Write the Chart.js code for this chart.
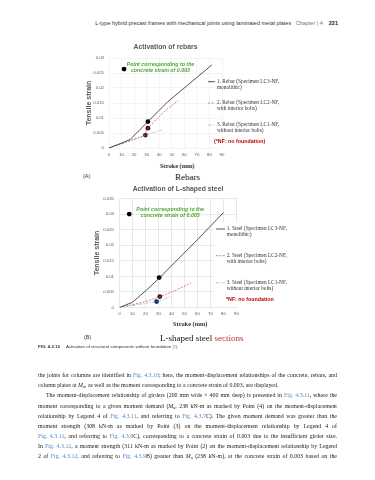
<!DOCTYPE html>
<html>
<head>
<meta charset="utf-8">
<script src="https://cdn.jsdelivr.net/npm/chart.js@4.4.1/dist/chart.umd.min.js"></script>
<style>
  html, body { margin: 0; padding: 0; background: #fff; }
  body { width: 375px; height: 480px; position: relative; overflow: hidden; font-family: "Liberation Serif", serif; color: #222; }
  .t { position: absolute; white-space: nowrap; line-height: 1; }
  canvas { position: absolute; }
  .head { font-family: "Liberation Sans", sans-serif; font-size: 5.5px; color: #333; right: 37px; top: 21.3px; }
  .head .ch { color: #777; margin-left: 3px; }
  .head b { margin-left: 6px; color: #222; }
  .sub { font-size: 9px; color: #111; }
  .tag { font-family: "Liberation Sans", sans-serif; font-size: 5.4px; color: #333; }
  .stroke { font-size: 6.4px; font-weight: bold; color: #333; }
  .red { color: #b7322c; }
  .cap { font-family: "Liberation Sans", sans-serif; font-size: 4.4px; color: #333; left: 38px; top: 345px; }
  .cap b { margin-right: 6px; }
  .link { color: #4f8ac4; }
  .para { position: absolute; left: 38px; width: 299px; font-size: 5.9px; line-height: 1; color: #222; text-align: justify; text-align-last: justify; white-space: nowrap; }
  .para i { font-style: italic; }
  .para sub { font-size: 4px; vertical-align: -1px; line-height: 0; }
</style>
</head>
<body>

<div class="t head">L-type hybrid precast frames with mechanical joints using laminated metal plates <span class="ch">Chapter | 4</span><b>221</b></div>

<canvas id="chartA" width="240" height="125" style="left:60px;top:36px"></canvas>
<div class="t stroke" style="left:160px;top:163.3px">Stroke (mm)</div>
<div class="t tag" style="left:83px;top:174.3px">(A)</div>
<div class="t sub" style="left:175px;top:172.5px">Rebars</div>

<canvas id="chartB" width="240" height="140" style="left:60px;top:182px"></canvas>
<div class="t stroke" style="left:173px;top:321px">Stroke (mm)</div>
<div class="t tag" style="left:84px;top:335.3px">(B)</div>
<div class="t sub" style="left:160px;top:333.5px">L-shaped steel <span class="red">sections</span></div>

<div class="t cap"><b>FIG. 4.2.12</b>Activation of structural components without foundation <span class="link">[2]</span>.</div>

<div class="para" style="top:373.2px">the joints for columns are identified in <span class="link">Fig. 4.3.10</span>; here, the moment-displacement relationships of the concrete, rebars, and</div>
<div class="para" style="top:383.2px;text-align-last:left">column plates at <i>M</i><sub>u</sub>, as well as the moment corresponding to a concrete strain of 0.003, are displayed.</div>
<div class="para" style="top:393.4px;padding-left:8px;width:291px">The moment-displacement relationship of girders (200 mm wide &times; 400 mm deep) is presented in <span class="link">Fig. 4.3.11</span>, where the</div>
<div class="para" style="top:403.5px">moment corresponding to a given moment demand (<i>M</i><sub>u</sub>, 238 kN-m as marked by Point (4) on the moment-displacement</div>
<div class="para" style="top:413.6px">relationship by Legend 4 of <span class="link">Fig. 4.3.11</span>, and referring to <span class="link">Fig. 4.3.7</span>C). The given moment demand was greater than the</div>
<div class="para" style="top:423.7px">moment strength (308 kN-m as marked by Point (3) on the moment-displacement relationship by Legend 4 of</div>
<div class="para" style="top:433.8px"><span class="link">Fig. 4.3.11</span>, and referring to <span class="link">Fig. 4.3.8</span>C), corresponding to a concrete strain of 0.003 due to the insufficient girder size.</div>
<div class="para" style="top:444px">In <span class="link">Fig. 4.3.12</span>, a moment strength (311 kN-m as marked by Point (2) on the moment-displacement relationship by Legend</div>
<div class="para" style="top:454.1px">2 of <span class="link">Fig. 4.3.12</span>, and referring to <span class="link">Fig. 4.3.9</span>B) greater than <i>M</i><sub>u</sub> (238 kN-m), at the concrete strain of 0.003 based on the</div>

<script>
const strokeTicks = [0, 10, 20, 30, 40, 50, 60, 70, 80, 90]
const strainTicksA = [0, 0.005, 0.01, 0.015, 0.02, 0.025, 0.03]
const strainTicksB = [0, 0.005, 0.01, 0.015, 0.02, 0.025, 0.03, 0.035]

// (A) rebars
const rebarMonoX = [0, 8, 17, 31, 47, 82]
const rebarMonoY = [0, 0.0013, 0.0029, 0.0088, 0.0155, 0.0277]
const rebarBoltsX = [0, 16, 27, 31, 40, 47, 55]
const rebarBoltsY = [0, 0.0023, 0.004, 0.0066, 0.0105, 0.0132, 0.0157]
const rebarPlainX = [0, 17, 29, 42]
const rebarPlainY = [0, 0.0024, 0.0042, 0.006]
const rebarMarkX = [31, 31, 29]
const rebarMarkY = [0.0088, 0.0066, 0.0043]
const rebarNoteX = [12]
const rebarNoteY = [0.0263]
const rebarLegend = [
  ['1. Rebar (Specimen LC3-NF,', 'monolithic)'],
  ['2. Rebar (Specimen LC2-NF,', 'with interior bolts)'],
  ['3. Rebar (Specimen LC1-NF,', 'without interior bolts)'],
]

// (B) L-shaped steel
const steelMonoX = [0, 10, 20, 31, 45, 60, 80]
const steelMonoY = [0, 0.0017, 0.0053, 0.0096, 0.0155, 0.0218, 0.0305]
const steelBoltsX = [0, 10, 20, 31, 42, 55]
const steelBoltsY = [0, 0.0009, 0.0019, 0.0034, 0.0053, 0.0079]
const steelPlainX = [0, 15, 28.5, 40]
const steelPlainY = [0, 0.001, 0.0019, 0.0035]
const steelMarkX = [30.5, 31, 28.5]
const steelMarkY = [0.0096, 0.0035, 0.0019]
const steelNoteX = [7.5]
const steelNoteY = [0.03]
const steelLegend = [
  ['1. Steel (Specimen LC3-NF,', 'monolithic)'],
  ['2. Steel (Specimen LC2-NF,', 'with interior bolts)'],
  ['3. Steel (Specimen LC1-NF,', 'without interior bolts)'],
]

const noteText = ['Point corresponding to the', 'concrete strain of 0.003']
const axisGrey = '#595959'

const zip = (xs, ys) => xs.map((x, i) => ({ x, y: ys[i] }))

// legend, green note and NF remark drawn on top of the plot
const notes = {
  id: 'notes',
  beforeDatasetsDraw(chart, args, o) {
    if (!o.cover) return
    const ctx = chart.ctx
    ctx.save()
    ctx.fillStyle = '#fff'
    ctx.fillRect(...o.cover)
    ctx.restore()
  },
  afterDraw(chart, args, o) {
    const { ctx, scales: { x, y } } = chart
    ctx.save()
    ctx.textBaseline = 'middle'

    ctx.fillStyle = '#4ea832'
    ctx.font = 'italic bold 5.3px "Liberation Sans"'
    ctx.textAlign = 'center'
    const nx = x.getPixelForValue(o.noteAt[0])
    const ny = y.getPixelForValue(o.noteAt[1])
    noteText.forEach((t, i) => ctx.fillText(t, nx, ny + i * 5.9))

    ctx.textAlign = 'left'
    o.items.forEach((lines, i) => {
      const ds = chart.data.datasets[i]
      const ly = o.rows[i]
      ctx.strokeStyle = ds.borderColor
      ctx.lineWidth = ds.borderWidth
      ctx.setLineDash(ds.borderDash || [])
      ctx.beginPath()
      ctx.moveTo(o.lineX, ly)
      ctx.lineTo(o.lineX + o.lineW, ly)
      ctx.stroke()
      ctx.fillStyle = '#333'
      ctx.font = '5.3px "Liberation Serif"'
      lines.forEach((t, j) => ctx.fillText(t, o.textX, ly + j * 5.8))
    })

    ctx.fillStyle = '#c00000'
    ctx.font = 'bold 5.3px "Liberation Sans"'
    ctx.fillText(o.nf, o.nfX, o.nfY)
    ctx.restore()
  },
}

function strainChart(id, c) {
  const line = (xs, ys, color, dash, width) => ({
    data: zip(xs, ys),
    showLine: true,
    borderColor: color,
    borderWidth: width,
    borderDash: dash,
    pointRadius: 0,
  })
  return new Chart(document.getElementById(id), {
    type: 'scatter',
    data: {
      datasets: [
        line(c.mono[0], c.mono[1], '#262626', [], 0.8),
        line(c.bolts[0], c.bolts[1], '#cf5a55', [2, 1.4], 0.8),
        line(c.plain[0], c.plain[1], '#8fbde0', [3, 1.3, 1, 1.3], 0.8),
        {
          data: zip(c.mark[0], c.mark[1]),
          pointRadius: 2.4,
          pointBackgroundColor: c.markColors,
          pointBorderWidth: 0,
        },
        {
          data: zip(c.note[0], c.note[1]),
          pointRadius: 2.4,
          pointBackgroundColor: '#000',
          pointBorderWidth: 0,
        },
      ],
    },
    options: {
      responsive: false,
      animation: false,
      events: [],
      layout: { padding: c.padding },
      plugins: {
        legend: { display: false },
        tooltip: { enabled: false },
        title: {
          display: true,
          text: c.title,
          fullSize: false,
          color: axisGrey,
          font: { family: '"Liberation Sans"', size: 6.8, weight: 'bold' },
          padding: c.titlePad,
        },
        notes: c.notes,
      },
      scales: {
        x: {
          type: 'linear',
          min: 0,
          max: 90,
          afterBuildTicks: (s) => { s.ticks = strokeTicks.map((v) => ({ value: v })) },
          afterFit: (s) => { s.height = 10 },
          grid: { color: c.grid, lineWidth: 0.6, drawTicks: false },
          border: { display: false },
          ticks: { padding: 4, color: axisGrey, font: { family: '"Liberation Sans"', size: 4.3 } },
        },
        y: {
          min: 0,
          max: c.yTicks[c.yTicks.length - 1],
          afterBuildTicks: (s) => { s.ticks = c.yTicks.map((v) => ({ value: v })) },
          afterFit: (s) => { s.width = c.yWidth },
          grid: { color: c.grid, lineWidth: 0.6, drawTicks: false },
          border: { display: false },
          ticks: {
            padding: c.tickPad,
            color: axisGrey,
            font: { family: '"Liberation Sans"', size: 4.3 },
            callback: (v) => String(v),
          },
          title: {
            display: true,
            text: 'Tensile strain',
            color: axisGrey,
            font: { family: '"Liberation Sans"', size: 7, weight: 'bold' },
            padding: { top: c.yTitlePad, bottom: 0 },
          },
        },
      },
    },
    plugins: [notes],
  })
}

strainChart('chartA', {
  title: 'Activation of rebars',
  titlePad: { top: 7.5, bottom: 6.34 },
  padding: { left: 0, right: 78, top: 0, bottom: 3 },
  yWidth: 49,
  yTitlePad: 24.8,
  tickPad: 5,
  yTicks: strainTicksA,
  grid: '#ececec',
  mono: [rebarMonoX, rebarMonoY],
  bolts: [rebarBoltsX, rebarBoltsY],
  plain: [rebarPlainX, rebarPlainY],
  mark: [rebarMarkX, rebarMarkY],
  markColors: ['#000', '#4a0c0c', '#3a1414'],
  note: [rebarNoteX, rebarNoteY],
  notes: {
    cover: null,
    noteAt: [41, 0.0278],
    items: rebarLegend,
    rows: [45.7, 67, 89],
    lineX: 148,
    lineW: 7,
    textX: 157,
    nf: '(*NF: no foundation)',
    nfX: 154,
    nfY: 105.7,
  },
})

strainChart('chartB', {
  title: 'Activation of L-shaped steel',
  titlePad: { top: 3.5, bottom: 4.84 },
  padding: { left: 0, right: 63.5, top: 0, bottom: 4.5 },
  yWidth: 59.5,
  yTitlePad: 32.8,
  tickPad: 5.5,
  yTicks: strainTicksB,
  grid: '#d9d9d9',
  mono: [steelMonoX, steelMonoY],
  bolts: [steelBoltsX, steelBoltsY],
  plain: [steelPlainX, steelPlainY],
  mark: [steelMarkX, steelMarkY],
  markColors: ['#000', '#4a0c0c', '#102a5a'],
  note: [steelNoteX, steelNoteY],
  notes: {
    cover: [154, 40, 24, 84.5],
    noteAt: [39, 0.0313],
    items: steelLegend,
    rows: [47, 73.7, 100.7],
    lineX: 156,
    lineW: 9,
    textX: 166.7,
    nf: '*NF: no foundation',
    nfX: 166,
    nfY: 118,
  },
})
</script>
</body>
</html>
